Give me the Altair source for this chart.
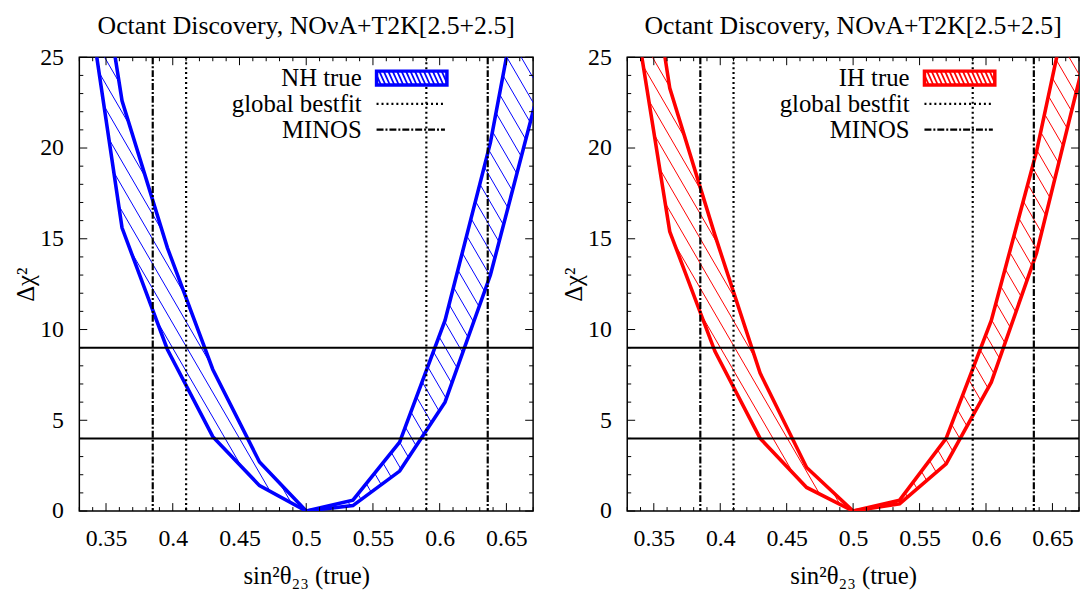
import altair as alt
import numpy as np
import pandas as pd

# ---------------- data ----------------
sin2_true = [0.329, 0.362, 0.396, 0.430, 0.465, 0.500, 0.535, 0.570, 0.604, 0.638, 0.671]
nh_lower = [32.0, 15.6, 8.9, 4.1, 1.4, 0.0, 0.3, 2.2, 6.0, 13.0, 22.3]
nh_upper = [38.0, 22.6, 14.5, 7.8, 2.7, 0.0, 0.6, 3.8, 10.5, 20.3, 33.2]
ih_lower = [30.5, 15.4, 8.8, 4.0, 1.3, 0.0, 0.4, 2.6, 7.1, 14.2, 24.0]
ih_upper = [39.0, 23.3, 15.2, 7.6, 2.4, 0.0, 0.6, 4.0, 10.5, 19.8, 31.1]

bestfit_x = [0.41, 0.59]
minos_x = [0.385, 0.636]
cl_levels = [4, 9]

x_major = [0.35, 0.40, 0.45, 0.50, 0.55, 0.60, 0.65]
x_minor = [0.33, 0.34, 0.36, 0.37, 0.38, 0.39, 0.41, 0.42, 0.43, 0.44, 0.46, 0.47,
           0.48, 0.49, 0.51, 0.52, 0.53, 0.54, 0.56, 0.57, 0.58, 0.59, 0.61, 0.62,
           0.63, 0.64, 0.66, 0.67]
y_major = [0, 5, 10, 15, 20, 25]
y_minor = [1, 2, 3, 4, 6, 7, 8, 9, 11, 12, 13, 14, 16, 17, 18, 19, 21, 22, 23, 24]

title_text = "Octant Discovery, NOνA+T2K[2.5+2.5]"
x_title = "sin²θ₂₃ (true)"
y_title = "Δχ²"
nh_legend = ["NH true", "global bestfit", "MINOS"]
ih_legend = ["IH true", "global bestfit", "MINOS"]

X0, X1 = 0.33, 0.67
Y0, Y1 = 0.0, 25.0
FONT = "Liberation Serif"
H = 458


def hatch_segments(xs, lo, hi, W, slope=0.58, step=14.5, phase=3.0):
    sx = W / (X1 - X0)
    sy = H / (Y1 - Y0)
    pts = list(zip(xs, lo)) + list(zip(xs[::-1], hi[::-1]))
    P = [((x - X0) * sx, (Y1 - y) * sy) for x, y in pts]
    n = len(P)
    rows = []
    c = -1500.0 + phase
    while c < 1500:
        cross = []
        for i in range(n):
            (ax, ay), (bx, by) = P[i], P[(i + 1) % n]
            fa = ax - slope * ay - c
            fb = bx - slope * by - c
            if (fa < 0) != (fb < 0):
                u = fa / (fa - fb)
                cross.append(ay + u * (by - ay))
        cross.sort()
        for k in range(0, len(cross) - 1, 2):
            ya, yb = cross[k], cross[k + 1]
            rows.append({"xa": X0 + (c + slope * ya) / sx, "ya": Y1 - ya / sy,
                         "xb": X0 + (c + slope * yb) / sx, "yb": Y1 - yb / sy})
        c += step
    return pd.DataFrame(rows)


def make_panel(lower, upper, color, labels, W):
    sx = W / (X1 - X0)
    sy = H / (Y1 - Y0)

    def px2x(p):
        return X0 + p / sx

    def py2y(p):
        return Y1 - p / sy

    xsc = alt.Scale(domain=[X0, X1], nice=False, zero=False)
    ysc = alt.Scale(domain=[Y0, Y1], nice=False, zero=False)
    xax = alt.Axis(values=x_major, format=".2~f", title=x_title, ticks=False, domain=False,
                   grid=False, labelPadding=16, titlePadding=13, labelFlush=False)
    yax = alt.Axis(values=y_major, format="d", title=y_title, ticks=False, domain=False,
                   grid=False, labelPadding=16, titlePadding=1, labelFlush=False)

    def X(f):
        return alt.X(f, type="quantitative", scale=xsc, axis=xax)

    def Y(f):
        return alt.Y(f, type="quantitative", scale=ysc, axis=yax)

    layers = []
    # hatch lines inside the band
    hdf = hatch_segments(sin2_true, lower, upper, W)
    layers.append(alt.Chart(hdf).mark_rule(color=color, strokeWidth=1, clip=True).encode(
        x=X("xa"), y=Y("ya"), x2="xb", y2="yb"))
    # band borders
    n = len(sin2_true)
    cdf = pd.DataFrame({"x": sin2_true * 2, "y": list(lower) + list(upper),
                        "s": ["lo"] * n + ["hi"] * n})
    layers.append(alt.Chart(cdf).mark_line(color=color, strokeWidth=3.6, clip=True).encode(
        x=X("x"), y=Y("y"), detail="s:N"))
    # confidence levels
    layers.append(alt.Chart(pd.DataFrame({"y": cl_levels})).mark_rule(
        color="black", strokeWidth=2).encode(y=Y("y")))
    # vertical lines
    layers.append(alt.Chart(pd.DataFrame({"x": bestfit_x})).mark_rule(
        color="black", strokeWidth=2.2, strokeDash=[2, 3]).encode(x=X("x")))
    layers.append(alt.Chart(pd.DataFrame({"x": minos_x})).mark_rule(
        color="black", strokeWidth=2.2, strokeDash=[7, 2, 2, 2]).encode(x=X("x")))

    # ---- legend ----
    rows_py = [21, 47, 73]
    bx0, bx1, by0, by1 = 300, 371, 14, 28
    box_df = pd.DataFrame({"x": [px2x(bx0)], "x2": [px2x(bx1)], "y": [py2y(by0)], "y2": [py2y(by1)]})
    layers.append(alt.Chart(box_df).mark_rect(fill="white", stroke=None).encode(
        x=X("x"), x2="x2", y=Y("y"), y2="y2"))
    srows = []
    sl = 0.45
    c = bx0 - sl * (by1 - by0)
    while c < bx1:
        xa, xb = c, c + sl * (by1 - by0)
        ya, yb = by0, by1
        if xa < bx0:
            ya = by0 + (bx0 - xa) / sl
            xa = bx0
        if xb > bx1:
            yb = by0 + (bx1 - c) / sl
            xb = bx1
        if yb > ya:
            srows.append({"xa": px2x(xa), "ya": py2y(ya), "xb": px2x(xb), "yb": py2y(yb)})
        c += 4.5
    layers.append(alt.Chart(pd.DataFrame(srows)).mark_rule(color=color, strokeWidth=1.8).encode(
        x=X("xa"), y=Y("ya"), x2="xb", y2="yb"))
    layers.append(alt.Chart(box_df).mark_rect(fillOpacity=0, stroke=color, strokeWidth=3.5).encode(
        x=X("x"), x2="x2", y=Y("y"), y2="y2"))
    layers.append(alt.Chart(pd.DataFrame({"x": [px2x(300)], "x2": [px2x(367)], "y": [py2y(rows_py[1])]}))
                  .mark_rule(color="black", strokeWidth=2.2, strokeDash=[2, 3]).encode(
        x=X("x"), x2="x2", y=Y("y")))
    layers.append(alt.Chart(pd.DataFrame({"x": [px2x(300)], "x2": [px2x(369)], "y": [py2y(rows_py[2])]}))
                  .mark_rule(color="black", strokeWidth=2.2, strokeDash=[7, 2, 2, 2]).encode(
        x=X("x"), x2="x2", y=Y("y")))
    tdf = pd.DataFrame({"x": [px2x(285)] * 3, "y": [py2y(p) for p in rows_py], "t": labels})
    layers.append(alt.Chart(tdf).mark_text(align="right", baseline="middle", font=FONT,
                                           fontSize=25, color="black").encode(
        x=X("x"), y=Y("y"), text="t:N"))

    # ---- inward ticks on all four sides ----
    for vals, ln in ((x_major, 8), (x_minor, 4)):
        d = pd.DataFrame({"v": vals})
        layers.append(alt.Chart(d).mark_rule(color="black", strokeWidth=1).encode(
            x=X("v"), y=alt.value(H), y2=alt.value(H - ln)))
        layers.append(alt.Chart(d).mark_rule(color="black", strokeWidth=1).encode(
            x=X("v"), y=alt.value(0), y2=alt.value(ln)))
    for vals, ln in ((y_major, 8), (y_minor, 4)):
        d = pd.DataFrame({"v": vals})
        layers.append(alt.Chart(d).mark_rule(color="black", strokeWidth=1).encode(
            y=Y("v"), x=alt.value(0), x2=alt.value(ln)))
        layers.append(alt.Chart(d).mark_rule(color="black", strokeWidth=1).encode(
            y=Y("v"), x=alt.value(W), x2=alt.value(W - ln)))

    return alt.layer(*layers).properties(
        width=W, height=H,
        title=alt.TitleParams(title_text, font=FONT, fontSize=26, fontWeight="normal",
                              anchor="middle", color="black", offset=6))


left = make_panel(nh_lower, nh_upper, "#0000ff", nh_legend, 458)
right = make_panel(ih_lower, ih_upper, "#ff0000", ih_legend, 456)

chart = alt.hconcat(left, right, spacing=26).properties(
    padding={"left": 5, "top": 2, "right": 0, "bottom": 0}
).configure_view(stroke="black", strokeWidth=1.5).configure_axis(
    labelFont=FONT, titleFont=FONT, labelFontSize=24, titleFontSize=25,
    labelColor="black", titleColor="black", titleFontWeight="normal"
)

chart.save("out.html", embed_options={"renderer": "svg", "actions": False})
